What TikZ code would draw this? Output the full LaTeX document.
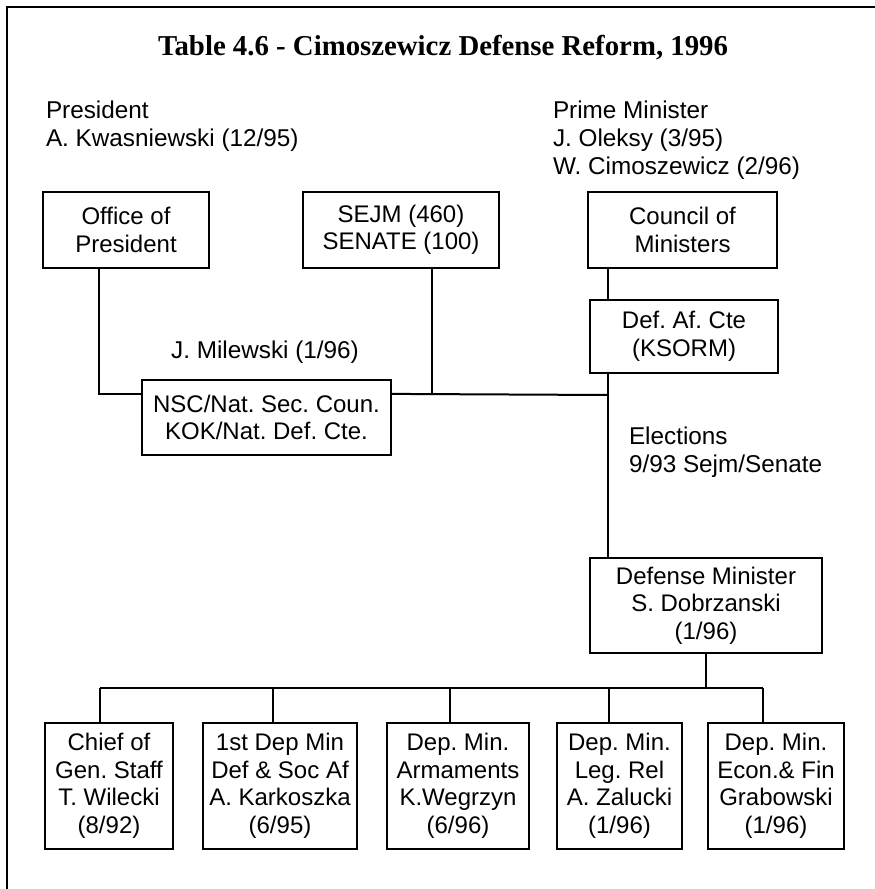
\documentclass[tikz,border=0pt]{standalone}
\usepackage{fontspec}
\setmainfont{Liberation Sans}
\newfontfamily\titlefont{Liberation Serif}
\usetikzlibrary{calc}

\tikzset{
	orgbox/.style={draw,line width=2.2pt,align=center,inner sep=0pt,font=\fontsize{24}{27.5}\selectfont},
	plaintext/.style={align=left,inner sep=0pt,font=\fontsize{24.3}{28}\selectfont}
}

\begin{document}
\frenchspacing
\begin{tikzpicture}[x=1pt,y=-1pt,line width=2pt]
	\useasboundingbox (0,0) rectangle (875,889);
	\draw (875,7) -- (7,7) -- (7,889);
	\node[inner sep=0pt,font=\titlefont\bfseries\fontsize{28.8}{30}\selectfont] (title) at (443,48) {Table 4.6 - Cimoszewicz Defense Reform, 1996};
	% heads of state
	\node[plaintext,anchor=north west] (pres) at (45,100) {President\\A. Kwasniewski (12/95)};
	\node[plaintext,anchor=north west] (pm) at (552,100) {Prime Minister\\J. Oleksy (3/95)\\W. Cimoszewicz (2/96)};
	% top row
	\node[orgbox,minimum width=166pt,minimum height=76pt] (office) at (126,230) {Office of\\President};
	\node[orgbox,minimum width=196pt,minimum height=76pt] (sejm) at (401,230) {SEJM (460)\\SENATE (100)};
	\node[orgbox,minimum width=189pt,minimum height=76pt] (council) at (682.5,230) {Council of\\Ministers};
	\node[orgbox,minimum width=188pt,minimum height=73pt] (defaf) at (684,336.5) {Def. Af. Cte\\(KSORM)};
	\node[orgbox,minimum width=249pt,minimum height=75pt] (nsc) at (266.5,417.5) {NSC/Nat. Sec. Coun.\\KOK/Nat. Def. Cte.};
	\node[plaintext] (milewski) at (265,352) {J. Milewski (1/96)};
	\node[plaintext,anchor=north west] (elect) at (628,426) {Elections\\9/93 Sejm/Senate};
	\node[orgbox,minimum width=232pt,minimum height=95pt] (defmin) at (706,605.5) {Defense Minister\\S. Dobrzanski\\(1/96)};
	% bottom row
	\foreach \n/\xc/\w/\txt in {chief/109/128/{Chief of\\Gen. Staff\\T. Wilecki\\(8/92)},
		firstdep/280/154/{1st Dep Min\\Def \& Soc Af\\A. Karkoszka\\(6/95)},
		arms/458/142/{Dep. Min.\\Armaments\\K.Wegrzyn\\(6/96)},
		legrel/619.5/125/{Dep. Min.\\Leg. Rel\\A. Zalucki\\(1/96)},
		econ/776/136/{Dep. Min.\\Econ.\& Fin\\Grabowski\\(1/96)}}
	\node[orgbox,minimum width=\w pt,minimum height=126pt] (\n) at (\xc,786) {\txt};
	% connectors
	\coordinate (spine) at (608,395);
	\coordinate (bus) at (0,688);
	\draw ([xshift=-27pt]office.south) |- ([yshift=-15pt]nsc.north west);
	\draw ([yshift=-15pt]nsc.north east) -- (spine);
	\draw ([xshift=31pt]sejm.south) -- ([xshift=31pt]sejm.south |- spine);
	\draw (council.south -| spine) -- (defaf.north -| spine);
	\draw (defaf.south -| spine) -- (defmin.north -| spine);
	\draw (defmin.south) -- (defmin.south |- bus);
	\draw ([xshift=-9pt]chief.north |- bus) -- ([xshift=-13pt]econ.north |- bus);
	\foreach \n/\dx in {chief/-9,firstdep/-7,arms/-8,legrel/-10.5,econ/-13}
	\draw ([xshift=\dx pt]\n.north) -- ([xshift=\dx pt]\n.north |- bus);
\end{tikzpicture}
\end{document}
